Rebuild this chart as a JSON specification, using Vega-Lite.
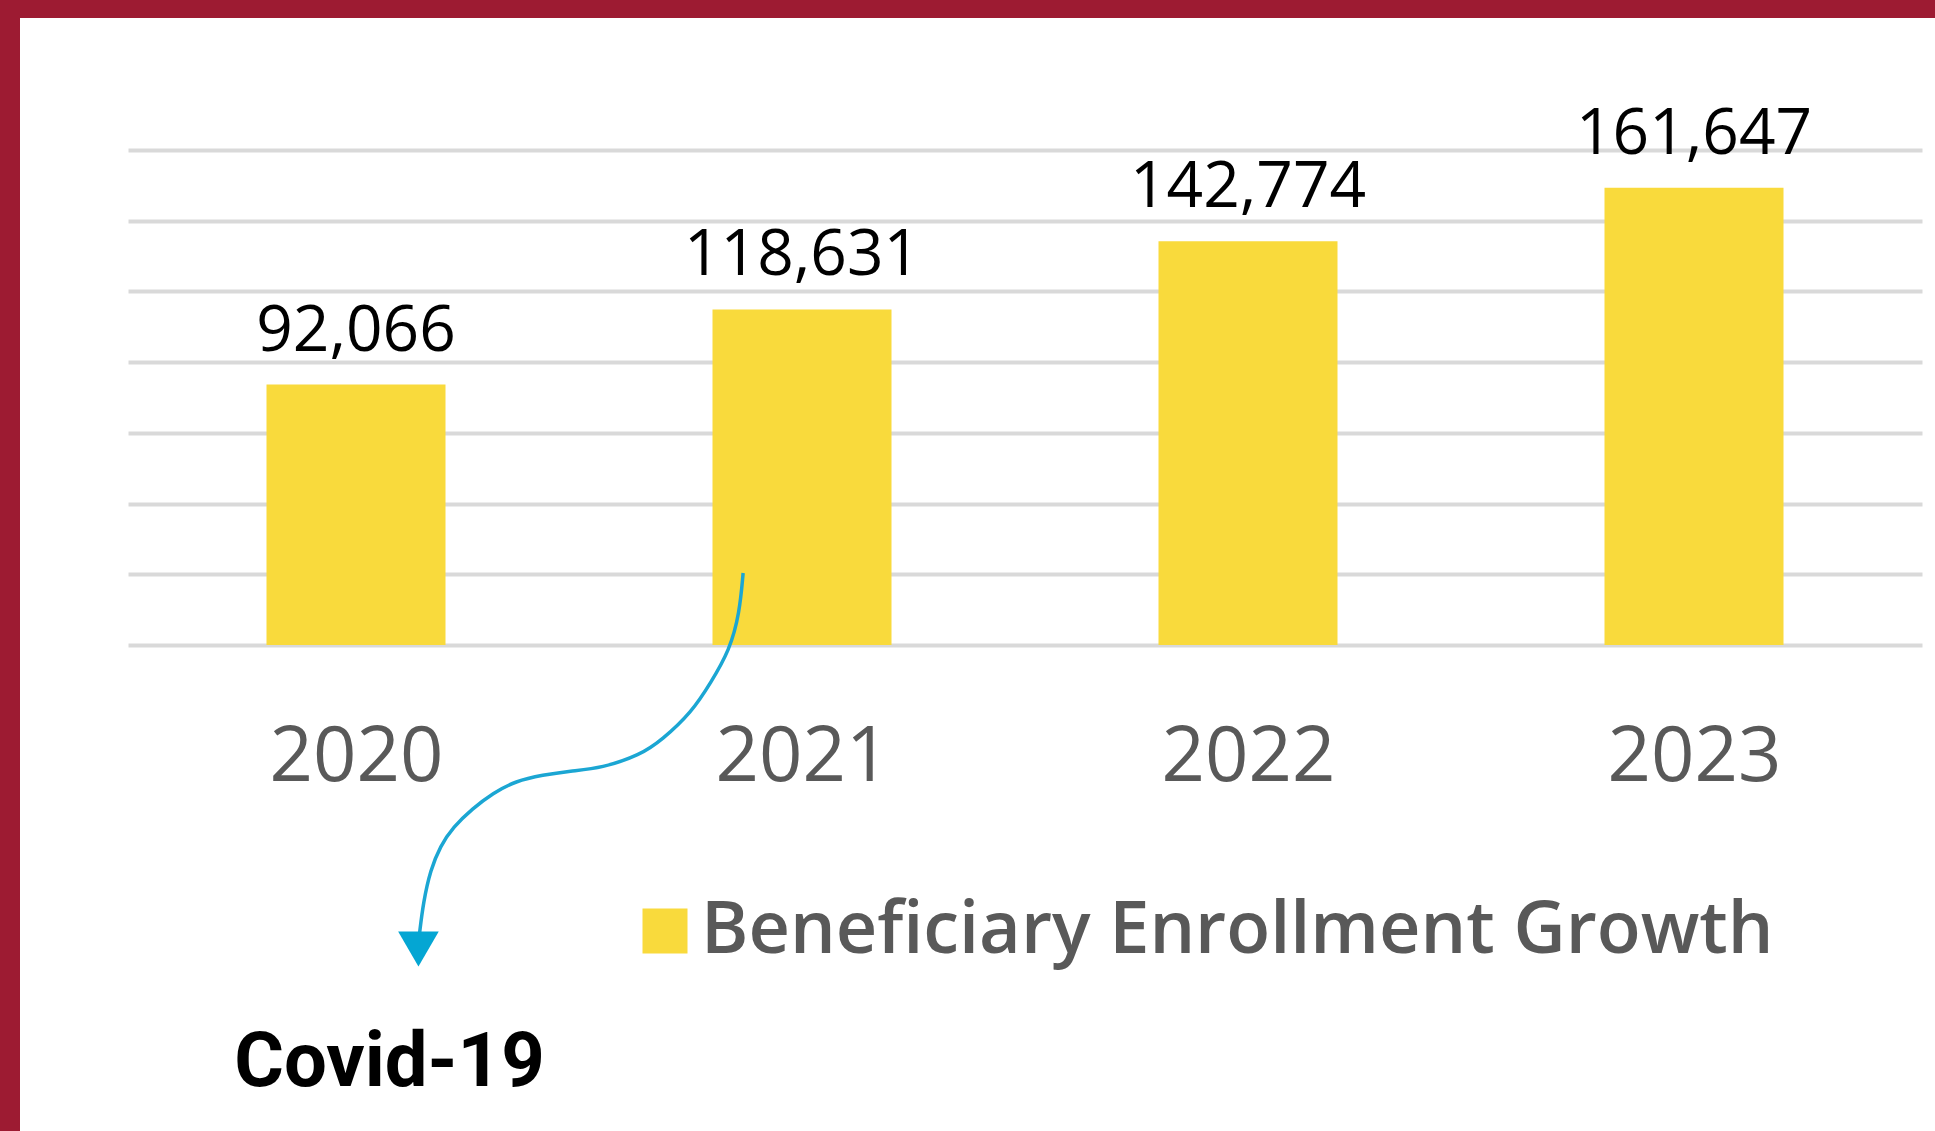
{
  "$schema": "https://vega.github.io/schema/vega-lite/v6.json",
  "width": 1915,
  "height": 1113,
  "autosize": {"type": "none"},
  "padding": {"left": 20, "top": 18, "right": 0, "bottom": 0},
  "background": "#9D1B32",
  "config": {"view": {"fill": "white", "stroke": null}},
  "layer": [
    {
      "data": {"values": [
        {"year": 2020, "value": 92066, "series": "Beneficiary Enrollment Growth"},
        {"year": 2021, "value": 118631, "series": "Beneficiary Enrollment Growth"},
        {"year": 2022, "value": 142774, "series": "Beneficiary Enrollment Growth"},
        {"year": 2023, "value": 161647, "series": "Beneficiary Enrollment Growth"}
      ]},
      "layer": [
        {
          "mark": {"type": "bar", "width": 179},
          "encoding": {
            "x": {"field": "year", "type": "quantitative",
              "scale": {"domain": [2019.5, 2023.5], "range": [108, 1902], "nice": false, "zero": false},
              "axis": {"values": [2020, 2021, 2022, 2023], "format": "d", "title": null, "domain": false, "ticks": false, "tickSize": 0, "grid": false,
                "offset": -486, "labelPadding": 135, "labelBaseline": "alphabetic", "labelFont": "Open Sans", "labelFontSize": 76,
                "labelColor": "#595959", "labelFlush": false, "labelOverlap": false}},
            "y": {"field": "value", "type": "quantitative",
              "scale": {"domain": [0, 175000], "range": [627, 132], "nice": false},
              "axis": {"values": [0, 25000, 50000, 75000, 100000, 125000, 150000, 175000], "title": null, "labels": false, "ticks": false, "domain": false,
                "grid": true, "gridColor": "#D9D9D9", "gridWidth": 4}},
            "color": {"field": "series", "type": "nominal", "scale": {"range": ["#F9DA3C"]},
              "legend": {"title": null, "orient": "none", "legendX": 609, "legendY": 877, "symbolType": "square", "symbolSize": 2025,
                "symbolStrokeWidth": 0, "labelFont": "Open Sans", "labelFontSize": 72, "labelFontWeight": 600, "labelColor": "#595959",
                "labelOffset": 0, "padding": 0, "labelLimit": 0}}
          }
        },
        {
          "mark": {"type": "text", "font": "Open Sans", "fontSize": 64, "color": "#000000", "align": "center", "baseline": "alphabetic", "dy": -34},
          "encoding": {
            "x": {"field": "year", "type": "quantitative"},
            "y": {"field": "value", "type": "quantitative"},
            "text": {"field": "value", "type": "quantitative", "format": ","}
          }
        }
      ]
    },
    {
      "data": {"values": [
        {"i": 1, "x": 2020.868, "y": 25455},
        {"i": 2, "x": 2020.860, "y": 11313},
        {"i": 3, "x": 2020.838, "y": -1768},
        {"i": 4, "x": 2020.795, "y": -13435},
        {"i": 5, "x": 2020.753, "y": -23687},
        {"i": 6, "x": 2020.686, "y": -33586},
        {"i": 7, "x": 2020.637, "y": -38889},
        {"i": 8, "x": 2020.552, "y": -43485},
        {"i": 9, "x": 2020.479, "y": -44546},
        {"i": 10, "x": 2020.419, "y": -45960},
        {"i": 11, "x": 2020.358, "y": -48081},
        {"i": 12, "x": 2020.307, "y": -52324},
        {"i": 13, "x": 2020.260, "y": -57980},
        {"i": 14, "x": 2020.218, "y": -64344},
        {"i": 15, "x": 2020.189, "y": -71062},
        {"i": 16, "x": 2020.167, "y": -79546},
        {"i": 17, "x": 2020.151, "y": -90860},
        {"i": 18, "x": 2020.142, "y": -102527}
      ]},
      "mark": {"type": "line", "interpolate": "basis", "strokeWidth": 3.5, "color": "#1BA6D3"},
      "encoding": {
        "x": {"field": "x", "type": "quantitative"},
        "y": {"field": "y", "type": "quantitative"},
        "order": {"field": "i", "type": "quantitative"}
      }
    },
    {
      "data": {"values": [{"x": 2020.140, "y": -107476}]},
      "mark": {"type": "point", "shape": "triangle-down", "filled": true, "size": 1650, "color": "#04A6D3", "opacity": 1},
      "encoding": {
        "x": {"field": "x", "type": "quantitative"},
        "y": {"field": "y", "type": "quantitative"}
      }
    },
    {
      "data": {"values": [{"label": "Covid-19", "x": 2020.075, "y": -155911}]},
      "mark": {"type": "text", "font": "Roboto", "fontSize": 76, "fontWeight": "bold", "color": "#000000", "align": "center", "baseline": "alphabetic"},
      "encoding": {
        "x": {"field": "x", "type": "quantitative"},
        "y": {"field": "y", "type": "quantitative"},
        "text": {"field": "label", "type": "nominal"}
      }
    }
  ]
}
